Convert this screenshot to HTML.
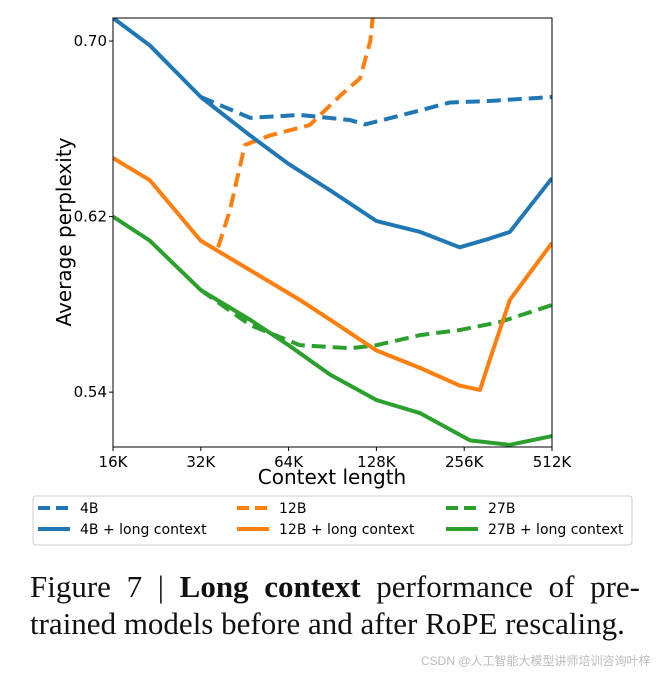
<!DOCTYPE html>
<html><head><meta charset="utf-8">
<style>
body{margin:0;background:#fff;width:668px;height:676px;overflow:hidden;position:relative;font-family:"DejaVu Sans","Liberation Sans",sans-serif}
svg{position:absolute;left:0;top:0}
#cap{position:absolute;left:30px;top:568px;width:610px;font-family:"Liberation Serif",serif;font-size:31px;line-height:37px;color:#111}
#cap .l1{text-align:justify;text-align-last:justify}
#wm{position:absolute;left:421px;top:652px;font-family:"Liberation Sans","Noto Sans CJK SC",sans-serif;font-size:12px;color:#bbb}
</style></head><body>
<svg id="chart" width="668" height="560"></svg>
<div id="cap"><div class="l1">Figure 7 | <b>Long context</b> performance of pre-</div><div>trained models before and after RoPE rescaling.</div></div>
<div id="wm">CSDN @人工智能大模型讲师培训咨询叶梓</div>
<script>
const xTicks=[16,32,64,128,256,512];
const xTickLabels=["16K","32K","64K","128K","256K","512K"];
const yTicks=[0.54,0.62,0.70];
const yTickLabels=["0.54","0.62","0.70"];
const s4B_x=[32,47.2,70,104,117,154,229,313,512];
const s4B_y=[0.6745,0.665,0.6663,0.664,0.662,0.666,0.672,0.6727,0.6745];
const s4BL_x=[16,21.4,32,47.2,64,88.8,128,181,247,313,367,512];
const s4BL_y=[0.7105,0.698,0.6745,0.657,0.644,0.632,0.618,0.613,0.606,0.610,0.613,0.6375];
const s12B_x=[36.7,40.3,45.3,55.3,75.6,96,112.5,122,124.6];
const s12B_y=[0.606,0.623,0.6526,0.657,0.6617,0.675,0.683,0.70,0.712];
const s12BL_x=[16,21.4,32,47.2,70,88.8,128,181,247,290,313,367,512];
const s12BL_y=[0.6467,0.6366,0.609,0.5956,0.582,0.573,0.559,0.551,0.543,0.541,0.5546,0.582,0.608];
const s27B_x=[32,47.2,70,104,128,181,247,340,512];
const s27B_y=[0.5865,0.5706,0.5614,0.56,0.5614,0.566,0.5683,0.572,0.5797];
const s27BL_x=[16,21.4,32,47.2,64,88.8,128,181,268,367,512];
const s27BL_y=[0.62,0.609,0.5865,0.573,0.5614,0.548,0.5364,0.5304,0.518,0.516,0.520];

const L=113,R=552,T=18,B=447;
const X=k=>L+(Math.log2(k/16)/5)*(R-L);
const Y=v=>B-(v-0.515)/(0.7105-0.515)*(B-T);
const NS="http://www.w3.org/2000/svg";
const svg=document.getElementById('chart');
function mk(tag,attrs,parent){const e=document.createElementNS(NS,tag);for(const k in attrs)e.setAttribute(k,attrs[k]);(parent||svg).appendChild(e);return e;}
const defs=mk('defs',{});const cp=mk('clipPath',{id:'c'},defs);mk('rect',{x:L,y:T,width:R-L,height:B-T},cp);
const g=mk('g',{'clip-path':'url(#c)'});
const series=[
 [s4B_x,s4B_y,'#1f77b4',true,'line-4b'],
 [s12B_x,s12B_y,'#ff7f0e',true,'line-12b'],
 [s27B_x,s27B_y,'#2ca02c',true,'line-27b'],
 [s4BL_x,s4BL_y,'#1f77b4',false,'line-4b-long-context'],
 [s12BL_x,s12BL_y,'#ff7f0e',false,'line-12b-long-context'],
 [s27BL_x,s27BL_y,'#2ca02c',false,'line-27b-long-context']];
series.forEach(([xs,ys,c,d,n])=>{
 const p=mk('polyline',{points:xs.map((x,i)=>X(x)+','+Y(ys[i])).join(' '),fill:'none',stroke:c,'stroke-width':4,'stroke-linejoin':'round','stroke-dasharray':d?'14,7':'none'},g);
 
 
});
const fr=mk('rect',{x:L,y:T,width:R-L,height:B-T,fill:'none',stroke:'#000','stroke-width':1});


xTicks.forEach((k,i)=>{
 mk('line',{x1:X(k),x2:X(k),y1:B,y2:B+4,stroke:'#000'});
 const t=mk('text',{x:X(k),y:B+20,'text-anchor':'middle','font-size':15});t.textContent=xTickLabels[i];
 
 
});
yTicks.forEach((v,i)=>{
 mk('line',{x1:L-4,x2:L,y1:Y(v),y2:Y(v),stroke:'#000'});
 const t=mk('text',{x:L-6,y:Y(v)+5,'text-anchor':'end','font-size':15});t.textContent=yTickLabels[i];
 
 
});
const xt=mk('text',{x:332,y:484,'text-anchor':'middle','font-size':20});xt.textContent='Context length';


const yt=mk('text',{x:71,y:232,'text-anchor':'middle','font-size':20,transform:'rotate(-90 71 232)'});yt.textContent='Average perplexity';


const lg=mk('g',{});


mk('rect',{x:33,y:496,width:599,height:49,rx:3,fill:'#fff',stroke:'#ccc'},lg);
const ents=[['4B','#1f77b4',true,38,508],['12B','#ff7f0e',true,237,508],['27B','#2ca02c',true,446,508],
['4B + long context','#1f77b4',false,38,529],['12B + long context','#ff7f0e',false,237,529],['27B + long context','#2ca02c',false,446,529]];
ents.forEach(([lab,c,d,x,y])=>{
 const e=mk('g',{},lg);
 
 
 mk('line',{x1:x,x2:x+32,y1:y,y2:y,stroke:c,'stroke-width':4,'stroke-dasharray':d?'12,6':'none'},e);
 const t=mk('text',{x:x+42,y:y+5,'font-size':14},e);t.textContent=lab;
});
</script>
</body></html>
